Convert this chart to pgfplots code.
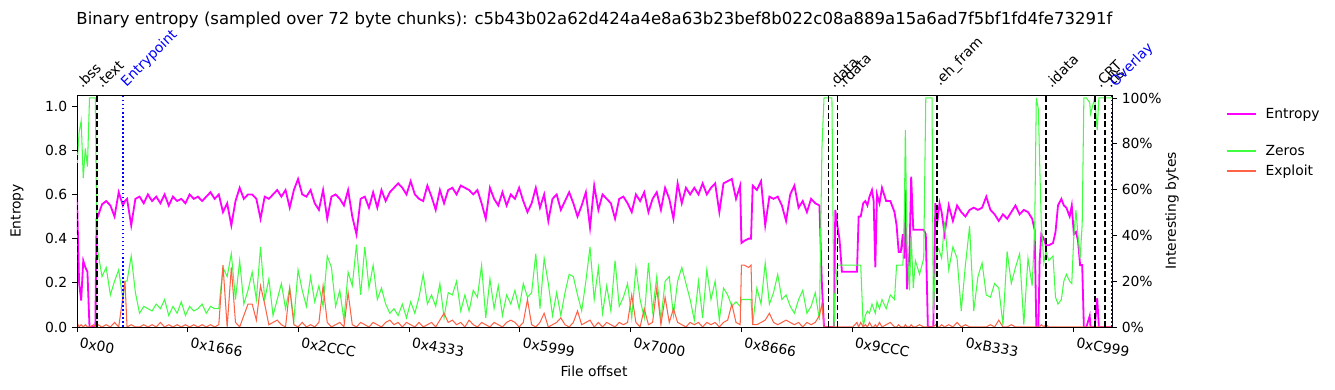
\documentclass[border=0pt]{standalone}
\usepackage{pgfplots}
\pgfplotsset{compat=1.18}
\usepackage{pgfplotstable}
\usepackage{fontspec}
\setmainfont{DejaVu Sans}
\definecolor{zgreen}{RGB}{64,255,64}
\definecolor{expred}{RGB}{255,99,71}
\definecolor{mag}{RGB}{255,0,255}

% i = chunk group index (offset = i*216 bytes), e = entropy, z = zeros fraction, p = exploit fraction
\pgfplotstableread{
i e z p
0 0.59 0.70 0.02
0.5 0.20 0.85 0.00
1 0.12 0.90 0.01
1.5 0.30 0.65 0.00
2 0.27 0.78 0.01
2.5 0.25 0.70 0.00
3 0.00 1.00 0.00
4 0.00 1.00 0.01
4.4 0.00 1.00 0.00
4.7 0.49 0.47 0.00
5 0.50 0.33 0.01
6 0.555 0.22 0.00
7 0.57 0.26 0.01
8 0.55 0.14 0.00
9 0.50 0.20 0.02
10 0.61 0.25 0.00
11 0.55 0.12 0.13
11.5 0.57 0.20 0.20
12 0.58 0.20 0.00
13 0.46 0.31 0.01
14 0.58 0.15 0.00
15 0.59 0.06 0.00
16 0.56 0.09 0.01
17 0.60 0.08 0.00
18 0.57 0.07 0.01
19 0.59 0.10 0.00
20 0.56 0.08 0.02
21 0.60 0.12 0.00
22 0.55 0.05 0.01
23 0.59 0.09 0.00
24 0.57 0.06 0.01
25 0.58 0.11 0.00
26 0.56 0.05 0.01
27 0.60 0.09 0.00
28 0.58 0.07 0.01
29 0.59 0.08 0.00
30 0.57 0.10 0.01
31 0.59 0.06 0.00
32 0.61 0.09 0.01
33 0.58 0.08 0.00
34 0.60 0.08 0.01
35 0.52 0.26 0.27
36 0.56 0.22 0.00
37 0.46 0.32 0.26
38 0.57 0.12 0.02
39 0.63 0.29 0.00
40 0.58 0.10 0.05
41 0.60 0.16 0.10
42 0.60 0.24 0.10
43 0.58 0.12 0.03
44 0.49 0.35 0.18
45 0.59 0.12 0.10
46 0.58 0.21 0.01
47 0.60 0.05 0.02
48 0.62 0.12 0.03
49 0.59 0.19 0.01
50 0.62 0.08 0.00
51 0.54 0.17 0.17
52 0.62 0.03 0.01
53 0.67 0.25 0.00
54 0.60 0.16 0.02
55 0.59 0.09 0.00
56 0.62 0.22 0.01
57 0.56 0.11 0.00
58 0.53 0.18 0.02
59 0.62 0.09 0.18
60 0.49 0.31 0.02
61 0.59 0.26 0.00
62 0.60 0.09 0.01
63 0.58 0.16 0.02
64 0.55 0.03 0.00
65 0.62 0.24 0.15
66 0.50 0.18 0.01
67 0.42 0.36 0.00
68 0.58 0.14 0.02
69 0.59 0.35 0.01
70 0.54 0.17 0.00
71 0.61 0.27 0.02
72 0.54 0.12 0.01
73 0.62 0.17 0.00
74 0.57 0.10 0.02
75 0.61 0.06 0.03
76 0.63 0.08 0.01
77 0.65 0.05 0.02
78 0.63 0.10 0.00
79 0.60 0.04 0.02
80 0.66 0.11 0.01
81 0.60 0.06 0.00
82 0.58 0.13 0.02
83 0.57 0.23 0.00
84 0.64 0.10 0.01
85 0.59 0.14 0.02
86 0.53 0.09 0.00
87 0.62 0.19 0.03
88 0.56 0.04 0.06
89 0.62 0.15 0.02
90 0.63 0.14 0.03
91 0.60 0.20 0.01
92 0.64 0.07 0.02
93 0.63 0.14 0.00
94 0.62 0.07 0.03
95 0.60 0.16 0.01
96 0.62 0.13 0.00
97 0.56 0.27 0.02
98 0.49 0.04 0.01
99 0.63 0.21 0.00
100 0.58 0.08 0.02
101 0.55 0.18 0.01
102 0.61 0.05 0.00
103 0.55 0.14 0.02
104 0.60 0.10 0.03
105 0.58 0.16 0.02
106 0.63 0.08 0.00
107 0.57 0.19 0.02
108 0.52 0.13 0.12
109 0.56 0.15 0.01
110 0.63 0.32 0.00
111 0.54 0.08 0.02
112 0.60 0.30 0.06
113 0.48 0.19 0.00
114 0.58 0.05 0.01
115 0.60 0.15 0.02
116 0.53 0.05 0.04
117 0.57 0.15 0.01
118 0.61 0.23 0.00
119 0.56 0.22 0.02
120 0.50 0.14 0.07
121 0.55 0.07 0.01
122 0.61 0.20 0.02
123 0.45 0.35 0.03
124 0.64 0.12 0.00
125 0.53 0.26 0.02
126 0.60 0.06 0.00
127 0.58 0.18 0.02
128 0.56 0.07 0.01
129 0.49 0.29 0.00
130 0.58 0.09 0.02
131 0.59 0.13 0.01
132 0.56 0.19 0.02
133 0.52 0.04 0.14
134 0.60 0.26 0.02
135 0.57 0.12 0.00
136 0.61 0.04 0.08
137 0.52 0.28 0.01
138 0.58 0.07 0.02
139 0.61 0.22 0.17
140 0.53 0.03 0.01
141 0.63 0.20 0.13
142 0.58 0.22 0.02
143 0.49 0.05 0.08
144 0.65 0.20 0.02
145 0.56 0.26 0.01
146 0.63 0.19 0.00
147 0.60 0.12 0.02
148 0.63 0.03 0.01
149 0.60 0.20 0.02
150 0.65 0.04 0.00
151 0.60 0.25 0.02
152 0.63 0.12 0.01
153 0.65 0.20 0.02
154 0.52 0.03 0.00
155 0.65 0.17 0.02
156 0.66 0.14 0.03
157 0.67 0.09 0.10
158 0.58 0.11 0.02
159 0.64 0.09 0.01
159.3 0.38 0.12 0.27
160 0.39 0.12 0.27
161 0.40 0.12 0.26
161.6 0.40 0.12 0.27
162 0.64 0.01 0.01
163 0.62 0.17 0.01
164 0.66 0.10 0.02
165 0.46 0.28 0.03
166 0.59 0.10 0.06
167 0.58 0.15 0.02
168 0.59 0.23 0.01
169 0.55 0.12 0.02
170 0.48 0.14 0.03
171 0.60 0.09 0.02
172 0.64 0.06 0.01
173 0.54 0.12 0.02
174 0.57 0.16 0.00
175 0.52 0.06 0.02
176 0.58 0.09 0.01
177 0.56 0.15 0.02
178 0.55 0.03 0.05
178.6 0.19 0.78 0.10
179.1 0.00 1.00 0.00
181 0.00 1.00 0.00
181.5 0.00 0.00 0.00
181.8 0.53 0.15 0.00
182.3 0.46 0.27 0.00
182.8 0.40 0.27 0.00
183.4 0.25 0.27 0.00
184 0.25 0.27 0.00
185 0.25 0.27 0.00
186 0.25 0.27 0.00
187 0.25 0.27 0.02
187.4 0.50 0.27 0.00
187.9 0.50 0.27 0.02
188.5 0.56 0.00 0.00
189 0.57 0.05 0.01
189.5 0.55 0.07 0.00
190 0.59 0.06 0.02
190.6 0.62 0.10 0.00
191 0.57 0.08 0.00
191.4 0.27 0.06 0.01
191.8 0.60 0.11 0.00
192.4 0.56 0.08 0.02
193 0.63 0.12 0.00
194 0.57 0.08 0.01
195 0.57 0.14 0.02
196 0.52 0.12 0.00
196.5 0.46 0.27 0.00
197 0.34 0.27 0.01
197.5 0.34 0.27 0.00
198 0.42 0.27 0.00
198.3 0.31 0.41 0.00
198.6 0.62 0.86 0.01
199 0.17 0.36 0.00
199.6 0.34 0.16 0.00
200 0.68 0.40 0.01
200.5 0.44 0.17 0.00
201 0.44 0.29 0.00
202 0.44 0.23 0.01
203 0.44 0.30 0.00
203.5 0.42 1.00 0.00
204 0.00 1.00 0.00
205 0.00 1.00 0.00
205.3 0.00 0.06 0.00
205.8 0.56 0.27 0.01
206.3 0.48 0.35 0.00
206.8 0.56 0.33 0.00
207.3 0.52 0.30 0.01
208 0.42 0.46 0.00
209 0.55 0.25 0.01
210 0.48 0.35 0.00
211 0.55 0.30 0.02
212 0.52 0.07 0.00
213 0.50 0.27 0.01
214 0.53 0.44 0.00
215 0.54 0.07 0.00
216 0.53 0.22 0.00
217 0.54 0.28 0.00
218 0.59 0.14 0.00
219 0.53 0.13 0.01
220 0.51 0.19 0.00
221 0.48 0.17 0.03
222 0.51 0.01 0.00
223 0.49 0.33 0.00
224 0.52 0.19 0.01
225 0.55 0.26 0.00
226 0.51 0.32 0.00
227 0.53 0.01 0.00
228 0.52 0.30 0.00
229 0.49 0.18 0.00
229.6 0.44 0.42 0.00
230 0.00 1.00 0.00
230.5 0.00 0.95 0.00
230.8 0.30 0.72 0.00
231.2 0.42 0.45 0.01
231.8 0.40 0.28 0.00
232.3 0.37 0.33 0.01
233 0.37 0.29 0.00
234 0.38 0.31 0.00
234.6 0.43 0.13 0.00
235.2 0.55 0.10 0.00
236 0.58 0.12 0.00
236.6 0.55 0.20 0.00
237.2 0.54 0.23 0.00
238 0.50 0.20 0.00
238.5 0.55 0.19 0.00
239 0.42 0.40 0.00
239.5 0.43 0.51 0.00
240 0.39 0.40 0.00
240.5 0.28 0.30 0.00
241 0.28 0.45 0.00
241.4 0.00 1.00 0.00
242 0.00 1.00 0.00
242.8 0.05 0.98 0.00
243 0.00 0.93 0.00
244 0.00 1.00 0.00
244.6 0.13 0.86 0.00
245 0.00 1.00 0.00
246 0.00 1.00 0.00
247 0.00 1.00 0.00
248.2 0.00 1.00 0.00
}\data

\begin{document}
\begin{tikzpicture}
\pgfplotsset{
  every axis/.append style={
    scale only axis, width=745.2pt, height=167.04pt,
    xmin=0, xmax=53600, scaled x ticks=false, scaled y ticks=false,
    font=\fontsize{10}{12}\selectfont,
    tick align=outside, major tick length=3.5pt,
    axis line style={line width=0.6pt},
    every tick/.style={black, line width=0.6pt},
  }
}
\begin{axis}[
  at={(0,0)}, anchor=south west,
  ymin=0, ymax=1.05,
  ytick={0,0.2,0.4,0.6,0.8,1.0}, yticklabels={0.0,0.2,0.4,0.6,0.8,1.0},
  xtick={0,5734,11468,17203,22937,28672,34406,40140,45875,51609},
  xticklabels={0x00,0x1666,0x2CCC,0x4333,0x5999,0x7000,0x8666,0x9CCC,0xB333,0xC999},
  xticklabel style={rotate=-10, anchor=north west},
  xtick pos=bottom, ytick pos=left,
  xlabel={File offset}, ylabel={Entropy},
  xlabel style={at={(axis description cs:0.4995,-0.19)}, anchor=center},
  ylabel style={at={(axis description cs:-0.058,0.5)}, anchor=center},
  title={Binary entropy (sampled over 72 byte chunks): c5b43b02a62d424a4e8a63b23bef8b022c08a889a15a6ad7f5bf1fd4fe73291f},
  title style={at={(axis description cs:0.5,1.289)}, anchor=center, font=\fontsize{11.9}{14}\selectfont},
  legend image code/.code={\draw[#1] (0pt,0pt) -- (21pt,0pt);},
  legend style={draw=none, fill=none, at={(axis description cs:1.110,0.956)}, anchor=north west,
    inner xsep=0pt, inner ysep=0pt, row sep=1.3pt,
    /tikz/every odd column/.append style={column sep=4pt}},
  legend cell align=left,
]
\addplot[mag, line width=1.3pt] table[x expr=\thisrow{i}*216, y=e] {\data};
\addlegendentry{Entropy}
\addlegendimage{empty legend}
\addlegendentry{\rule[-1pt]{0pt}{6.8pt}}
\addlegendimage{zgreen, line width=1.4pt}
\addlegendentry{Zeros}
\addlegendimage{expred, line width=1.1pt}
\addlegendentry{Exploit}
\end{axis}
\begin{axis}[
  at={(0,0)}, anchor=south west,
  ymin=0, ymax=1.013,
  axis y line*=right, axis x line=none,
  ytick={0,0.2,0.4,0.6,0.8,1.0}, yticklabels={0\%,20\%,40\%,60\%,80\%,100\%},
  ylabel={Interesting bytes},
  ylabel style={at={(axis description cs:1.058,0.5)}, anchor=center},
  clip mode=individual,
]
\addplot[zgreen, line width=0.75pt] table[x expr=\thisrow{i}*216, y=z] {\data};
\addplot[expred, line width=0.75pt] table[x expr=\thisrow{i}*216, y=p] {\data};
% section markers
\addplot[black, line width=1.1pt, dash pattern=on 4pt off 2pt] coordinates {(0,0) (0,1.013)};
\addplot[black, line width=1.1pt, dash pattern=on 4pt off 2pt] coordinates {(1024,0) (1024,1.013)};
\addplot[blue, line width=1.1pt, dash pattern=on 1.1pt off 1.8pt] coordinates {(2387,0) (2387,1.013)};
\addplot[black, line width=1.1pt, dash pattern=on 4pt off 2pt] coordinates {(38925,0) (38925,1.013)};
\addplot[black, line width=1.1pt, dash pattern=on 4pt off 2pt] coordinates {(39392,0) (39392,1.013)};
\addplot[black, line width=1.1pt, dash pattern=on 4pt off 2pt] coordinates {(44530,0) (44530,1.013)};
\addplot[black, line width=1.1pt, dash pattern=on 4pt off 2pt] coordinates {(50187,0) (50187,1.013)};
\addplot[black, line width=1.1pt, dash pattern=on 4pt off 2pt] coordinates {(52730,0) (52730,1.013)};
\addplot[black, line width=1.1pt, dash pattern=on 4pt off 2pt] coordinates {(53250,0) (53250,1.013)};
\addplot[blue, line width=1.1pt, dash pattern=on 1.1pt off 1.8pt] coordinates {(53600,0) (53600,1.013)};
\begin{scope}[every node/.style={xshift=4pt, yshift=4pt, rotate=45, anchor=south west, inner sep=0pt, font=\fontsize{10}{12}\selectfont}]
\node at (axis cs:0,1.013) {.bss};
\node at (axis cs:1024,1.013) {.text};
\node[text=blue] at (axis cs:2387,1.013) {Entrypoint};
\node at (axis cs:38925,1.013) {.data};
\node at (axis cs:39392,1.013) {.rdata};
\node at (axis cs:44530,1.013) {.eh\_fram};
\node at (axis cs:50187,1.013) {.idata};
\node at (axis cs:52730,1.013) {.CRT};
\node at (axis cs:53250,1.013) {.tls};
\node[text=blue] at (axis cs:53600,1.013) {Overlay};
\end{scope}
\end{axis}
\pgfresetboundingbox
\path[use as bounding box] (-55.44pt,-45.36pt) rectangle (905.76pt,235.44pt);
\end{tikzpicture}
\end{document}
